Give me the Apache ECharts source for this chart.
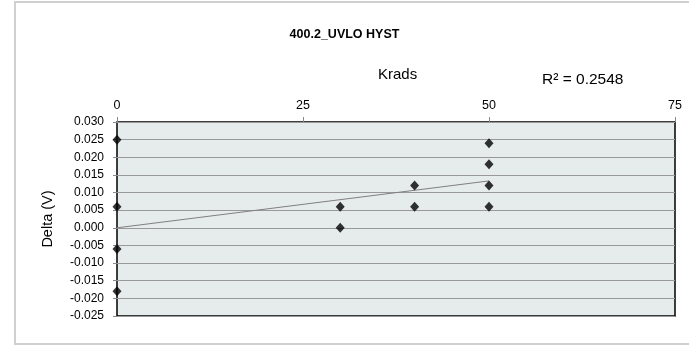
<!DOCTYPE html>
<html>
<head>
<meta charset="utf-8">
<script src="https://cdn.jsdelivr.net/npm/echarts@6/dist/echarts.min.js"></script>
<style>
html, body { margin: 0; padding: 0; background: #fff; }
#mychart { width: 689px; height: 346px; }
</style>
</head>
<body>
<div id="mychart"></div>
<script>
// Krads vs Delta (V)
var kradsX = [0, 0, 0, 0, 30, 30, 40, 40, 50, 50, 50, 50];
var deltaY = [0.025, 0.006, -0.006, -0.018, 0.006, 0.000, 0.012, 0.006, 0.024, 0.018, 0.012, 0.006];
// trendline ends
var trendX = [0, 50];
var trendY = [0.0000, 0.0133];
var xTicks = [0, 25, 50, 75];
var rSquared = '0.2548';

var points = [];
for (var i = 0; i < kradsX.length; i++) {
    points.push([kradsX[i], deltaY[i]]);
}
var trend = [];
for (var j = 0; j < trendX.length; j++) {
    trend.push([trendX[j], trendY[j]]);
}

var myChart = echarts.init(document.getElementById('mychart'));
var fontName = 'Liberation Sans, Arial, sans-serif';
myChart.setOption({
    animation: false,
    title: {
        text: '400.2_UVLO HYST',
        left: 'center',
        top: 23,
        textStyle: { fontFamily: fontName, fontSize: 12.5, fontWeight: 'bold', color: '#000' }
    },
    graphic: [
        {
            type: 'rect',
            shape: { x: 15, y: 2, width: 690, height: 342 },
            style: { fill: 'none', stroke: '#d0d0d0', lineWidth: 2 },
            silent: true
        },
        {
            type: 'text',
            left: 378, top: 67,
            style: { text: 'Krads', font: '15px ' + fontName, fill: '#000' }
        },
        {
            type: 'text',
            left: 542, top: 72,
            style: { text: 'R² = ' + rSquared, font: '15.5px ' + fontName, fill: '#000' }
        }
    ],
    grid: {
        left: 117,
        right: 14,
        top: 122,
        bottom: 30,
        show: true,
        backgroundColor: '#e6ebeb',
        borderColor: '#000',
        borderWidth: 1.5
    },
    xAxis: {
        type: 'value',
        position: 'top',
        min: xTicks[0],
        max: xTicks[xTicks.length - 1],
        interval: 25,
        axisLine: { show: false, onZero: false },
        axisTick: { show: true, length: 5, lineStyle: { color: '#888' } },
        axisLabel: { margin: 10, fontFamily: fontName, fontSize: 12.5, color: '#000' },
        splitLine: { show: false }
    },
    yAxis: {
        type: 'value',
        min: -0.025,
        max: 0.030,
        interval: 0.005,
        name: 'Delta (V)',
        nameLocation: 'middle',
        nameGap: 62,
        nameTextStyle: { fontFamily: fontName, fontSize: 14.5, color: '#000' },
        axisLine: { show: false, onZero: false },
        axisTick: { show: true, length: 4, lineStyle: { color: '#888' } },
        axisLabel: {
            margin: 13,
            fontFamily: fontName,
            fontSize: 12,
            color: '#000',
            formatter: function (v) { return v.toFixed(3); }
        },
        splitLine: { show: true, lineStyle: { color: '#999', width: 1 } }
    },
    series: [
        {
            name: 'trend',
            type: 'line',
            data: trend,
            symbol: 'none',
            lineStyle: { color: '#808080', width: 1 },
            z: 2
        },
        {
            name: 'Delta',
            type: 'scatter',
            data: points,
            symbol: 'diamond',
            symbolSize: [9, 10],
            itemStyle: { color: '#000' },
            z: 3
        }
    ]
});
</script>
</body>
</html>
